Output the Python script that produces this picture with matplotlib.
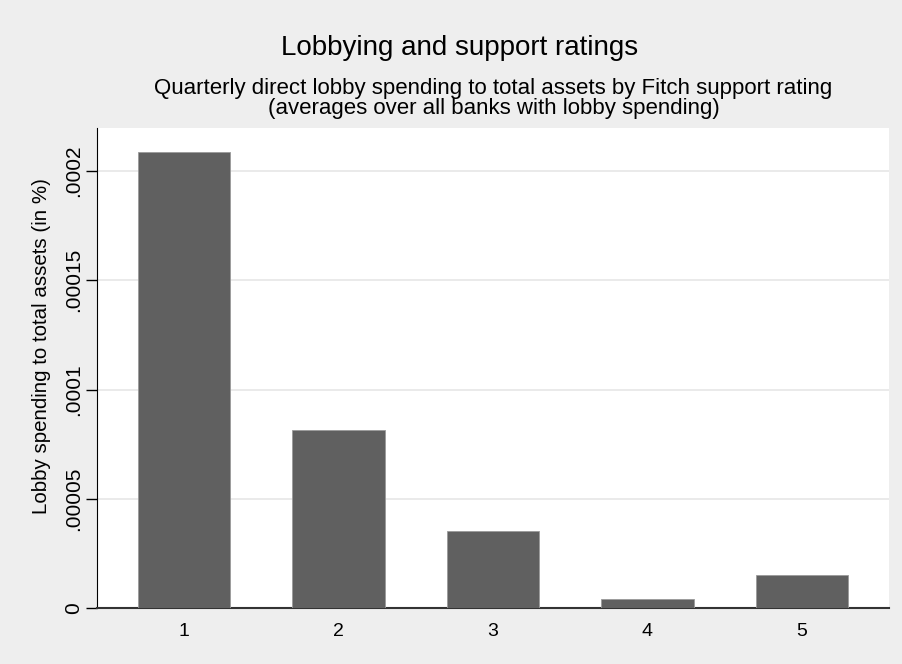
import matplotlib
matplotlib.use("Agg")
import matplotlib.pyplot as plt
from matplotlib.ticker import FuncFormatter

# Data
ratings = [1, 2, 3, 4, 5]
lobby_share = [0.0002087, 0.0000815, 0.0000352, 0.0000041, 0.0000151]
y_ticks = [0, 0.00005, 0.0001, 0.00015, 0.0002]

plt.rcParams['font.family'] = ['Liberation Sans', 'DejaVu Sans']

bg = '#eeeeee'
fig = plt.figure(figsize=(9.02, 6.64), dpi=100, facecolor=bg)
ax = fig.add_axes([0.1075, 0.0843, 0.878, 0.7229])
ax.set_facecolor('white')

ax.bar(ratings, lobby_share, width=0.6, color='#606060', edgecolor='#9a9a9a',
       linewidth=0.6, zorder=3)

ax.set_xlim(0.437, 5.563)
ax.set_ylim(0, 0.0002197)
ax.set_xticks(ratings)
ax.set_yticks(y_ticks)

def stata_fmt(v, pos):
    if v == 0:
        return '0'
    return ('%.5f' % v).rstrip('0').lstrip('0')

ax.yaxis.set_major_formatter(FuncFormatter(stata_fmt))
ax.grid(axis='y', color='#e6e6e6', linewidth=1.2, zorder=0)
ax.tick_params(axis='y', length=8, width=1, labelsize=15, rotation=90, pad=2)
ax.tick_params(axis='x', length=0, labelsize=14, pad=11)
for lab in ax.get_yticklabels():
    lab.set_va('center')

for s in ['top', 'right']:
    ax.spines[s].set_visible(False)
ax.spines['left'].set_color('black')
ax.spines['bottom'].set_color('#333333')
ax.spines['bottom'].set_linewidth(1.5)

ax.set_ylabel("Lobby spending to total assets (in %)", fontsize=14.8)
ax.yaxis.set_label_coords(-0.058, 0.545)

fig.text(0.51, 0.927, "Lobbying and support ratings", ha='center', va='center', fontsize=20)
fig.text(0.547, 0.867, "Quarterly direct lobby spending to total assets by Fitch support rating",
         ha='center', va='center', fontsize=16)
fig.text(0.547, 0.836, "(averages over all banks with lobby spending)",
         ha='center', va='center', fontsize=16)

fig.savefig("out.png", dpi=100, facecolor=bg)
